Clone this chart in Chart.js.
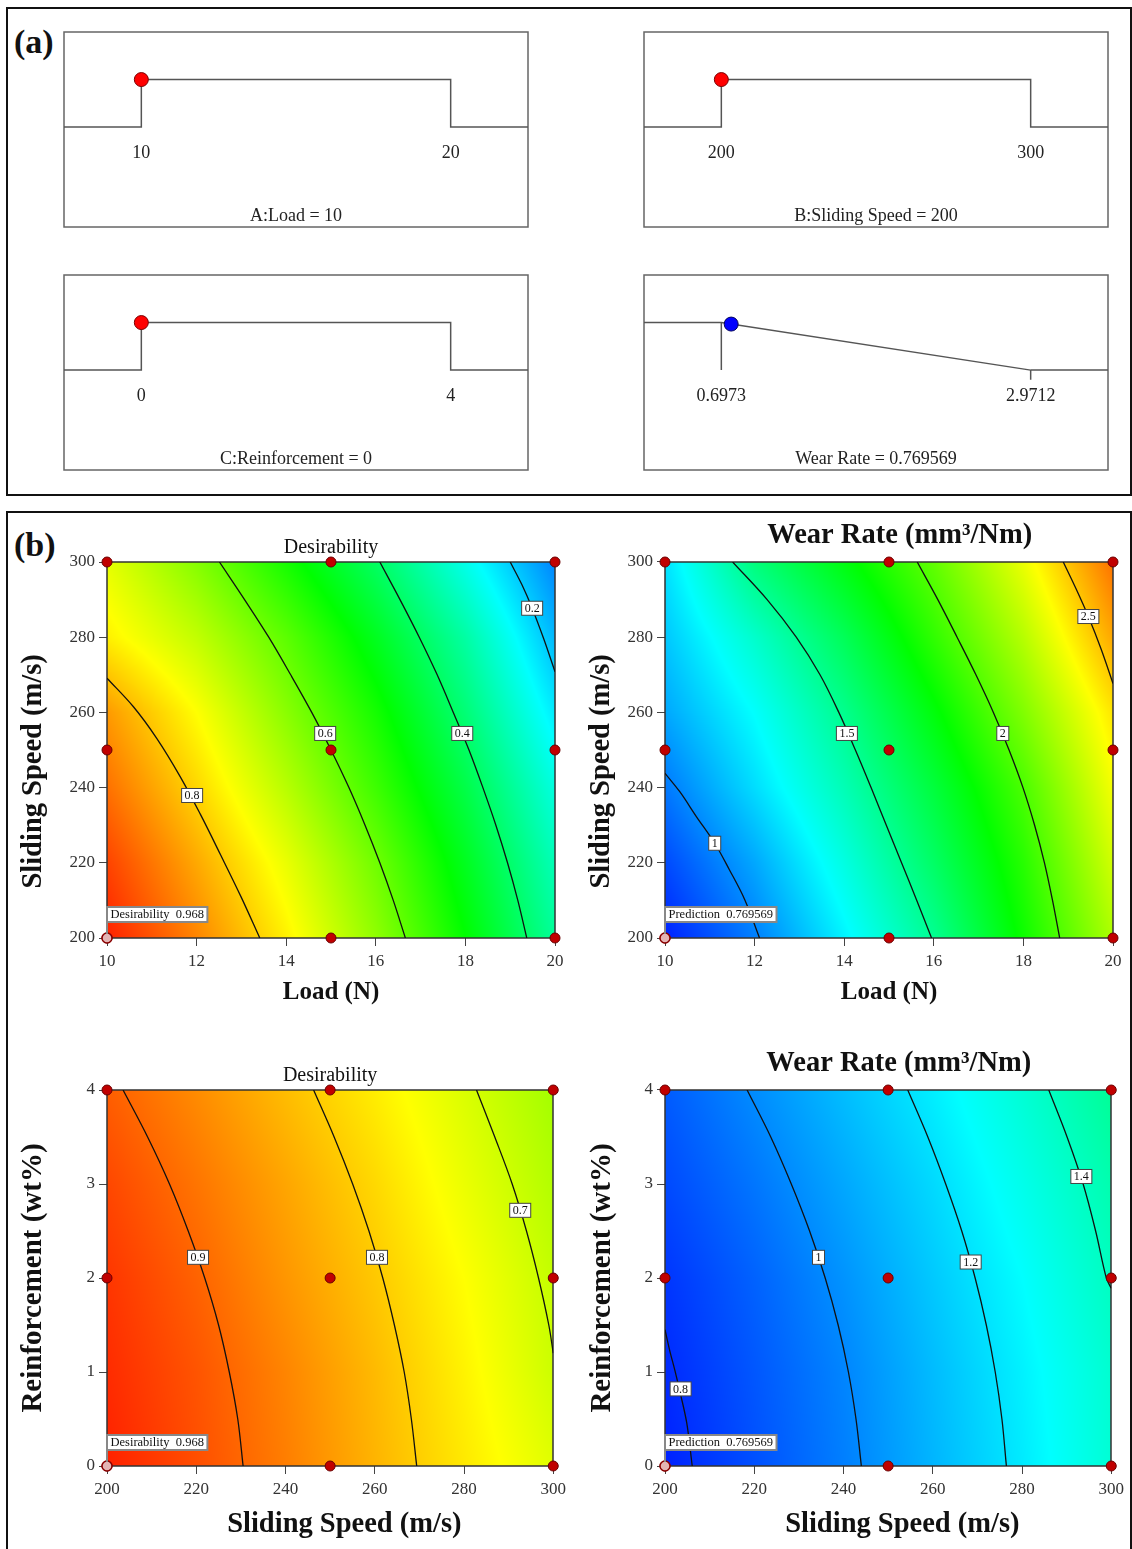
<!DOCTYPE html>
<html>
<head>
<meta charset="utf-8">
<script src="https://cdn.jsdelivr.net/npm/chart.js@4.4.1/dist/chart.umd.min.js"></script>
<style>
  body { margin: 0; width: 1132px; height: 1549px; overflow: hidden; position: relative; background: #fff; font-family: "Liberation Serif", serif; }
  .panel { position: absolute; border: 2px solid #111; box-sizing: border-box; }
  .tag { position: absolute; font: bold 34px "Liberation Serif", serif; line-height: 1; color: #111; }
  canvas { position: absolute; }
</style>
</head>
<body>
<div class="panel" style="left:6px;top:7px;width:1126px;height:489px"></div>
<div class="panel" style="left:6px;top:511px;width:1126px;height:1060px"></div>
<div class="tag" style="left:14px;top:25px">(a)</div>
<div class="tag" style="left:14px;top:528px">(b)</div>

<canvas id="rampLoad" width="480" height="211" style="left:56px;top:24px"></canvas>
<canvas id="rampSpeed" width="480" height="211" style="left:636px;top:24px"></canvas>
<canvas id="rampReinf" width="480" height="211" style="left:56px;top:267px"></canvas>
<canvas id="rampWear" width="480" height="211" style="left:636px;top:267px"></canvas>

<canvas id="desLS" width="571" height="500" style="left:0px;top:515px"></canvas>
<canvas id="wearLS" width="554" height="500" style="left:575px;top:515px"></canvas>
<canvas id="desSR" width="571" height="518" style="left:0px;top:1030px"></canvas>
<canvas id="wearSR" width="554" height="518" style="left:575px;top:1030px"></canvas>

<script>
// ---------- panel (a): factor ranges and current settings ----------
const loadRange = [10, 20];
const speedRange = [200, 300];
const reinfRange = [0, 4];
const wearRange = [0.6973, 2.9712];
const loadSetting = 10;
const speedSetting = 200;
const reinfSetting = 0;
const wearPrediction = 0.769569;
const desirability = 0.968;

// ---------- panel (b): ticks ----------
const loadTicks = [10, 12, 14, 16, 18, 20];
const speedTicks = [200, 220, 240, 260, 280, 300];
const reinfTicks = [0, 1, 2, 3, 4];

// design points (red dots)
const designLoadSpeed = [[10, 200], [15, 200], [20, 200], [10, 250], [15, 250], [20, 250], [10, 300], [15, 300], [20, 300]];
const designSpeedReinf = [[200, 0], [250, 0], [300, 0], [200, 2], [250, 2], [300, 2], [200, 4], [250, 4], [300, 4]];

// colour fields: rows follow the y ticks (bottom to top), columns the x ticks
const desLoadSpeed = [
  [0.968, 0.87, 0.764, 0.641, 0.501, 0.35],
  [0.935, 0.835, 0.73, 0.61, 0.47, 0.32],
  [0.89, 0.79, 0.68, 0.56, 0.43, 0.28],
  [0.85, 0.75, 0.635, 0.52, 0.385, 0.23],
  [0.765, 0.69, 0.59, 0.47, 0.34, 0.18],
  [0.725, 0.63, 0.52, 0.405, 0.27, 0.13],
];
const wearLoadSpeed = [
  [0.77, 0.98, 1.24, 1.51, 1.86, 2.22],
  [0.86, 1.07, 1.33, 1.61, 1.92, 2.3],
  [0.965, 1.19, 1.43, 1.7, 2.0, 2.38],
  [1.07, 1.27, 1.52, 1.81, 2.12, 2.46],
  [1.14, 1.38, 1.64, 1.94, 2.24, 2.6],
  [1.2, 1.56, 1.8, 2.05, 2.36, 2.72],
];
const desSpeedReinf = [
  [0.968, 0.924, 0.877, 0.824, 0.772, 0.72],
  [0.958, 0.918, 0.87, 0.818, 0.762, 0.70],
  [0.948, 0.904, 0.853, 0.804, 0.75, 0.692],
  [0.931, 0.886, 0.838, 0.788, 0.731, 0.675],
  [0.908, 0.863, 0.815, 0.767, 0.714, 0.66],
];
const wearSpeedReinf = [
  [0.77, 0.874, 0.979, 1.1, 1.22, 1.36],
  [0.789, 0.89, 0.993, 1.115, 1.235, 1.37],
  [0.815, 0.915, 1.025, 1.145, 1.265, 1.405],
  [0.86, 0.96, 1.07, 1.182, 1.31, 1.445],
  [0.9, 1.01, 1.12, 1.23, 1.36, 1.5],
];

// contour lines
const desLSLevels = ["0.8", "0.6", "0.4", "0.2"];
const desLSLines = [
  [[10, 269.1], [10.59, 261.5], [11.11, 253.1], [11.63, 243], [12.08, 233], [12.54, 222], [12.99, 211], [13.41, 200]],
  [[12.51, 300], [13.07, 290], [13.61, 280], [14.1, 270], [14.57, 260], [15.0, 250], [15.4, 240], [15.76, 230], [16.09, 220], [16.39, 210], [16.66, 200]],
  [[16.09, 300], [16.54, 290], [16.97, 280], [17.37, 270], [17.73, 260], [18.08, 250], [18.39, 240], [18.68, 230], [18.94, 220], [19.17, 210], [19.37, 200]],
  [[19.0, 300], [19.26, 294], [19.49, 287.7], [19.75, 279.5], [20, 270.8]],
];
const desLSLabelAt = [[11.9, 237.9], [14.87, 254.4], [17.93, 254.4], [19.49, 287.7]];

const wearLSLevels = ["1", "1.5", "2", "2.5"];
const wearLSLines = [
  [[10, 243.8], [10.33, 238.9], [10.7, 232.3], [11.11, 225.2], [11.44, 218.1], [11.78, 210.2], [12.11, 200]],
  [[11.51, 300], [12.28, 290], [12.93, 280], [13.46, 270], [13.88, 260], [14.25, 250], [14.6, 240], [14.94, 230], [15.28, 220], [15.62, 210], [15.95, 200]],
  [[15.63, 300], [16.09, 290], [16.52, 280], [16.94, 270], [17.33, 260], [17.68, 250], [17.99, 240], [18.25, 230], [18.47, 220], [18.65, 210], [18.81, 200]],
  [[18.89, 300], [19.17, 293], [19.45, 285.5], [19.73, 277], [20, 267.7]],
];
const wearLSLabelAt = [[11.11, 225.2], [14.06, 254.4], [17.54, 254.4], [19.45, 285.5]];

const desSRLevels = ["0.9", "0.8", "0.7"];
const desSRLines = [
  [[203.6, 4], [209.1, 3.5], [214.0, 3], [218.2, 2.5], [221.9, 2], [225.0, 1.5], [227.4, 1], [229.3, 0.5], [230.5, 0]],
  [[246.3, 4], [250.9, 3.5], [255.05, 3], [258.7, 2.5], [261.8, 2], [264.4, 1.5], [266.6, 1], [268.2, 0.5], [269.4, 0]],
  [[282.8, 4], [286.9, 3.5], [290.8, 3], [294.0, 2.5], [296.7, 2], [299.0, 1.5], [300, 1.2]],
];
const desSRLabelAt = [[220.4, 2.22], [260.5, 2.22], [292.6, 2.72]];

const wearSRLevels = ["0.8", "1", "1.2", "1.4"];
const wearSRLines = [
  [[200, 1.45], [201.1, 1.22], [202.2, 1.02], [203.5, 0.76], [204.9, 0.45], [206.1, 0]],
  [[218.4, 4], [223.7, 3.5], [228.3, 3], [232.4, 2.5], [235.9, 2], [238.8, 1.5], [241.1, 1], [242.8, 0.5], [244.0, 0]],
  [[254.4, 4], [258.9, 3.5], [262.9, 3], [266.5, 2.5], [269.5, 2], [272.0, 1.5], [274.0, 1], [275.5, 0.5], [276.5, 0]],
  [[286, 4], [290.1, 3.5], [293.7, 3], [296.5, 2.5], [298.9, 2], [300, 1.89]],
];
const wearSRLabelAt = [[203.5, 0.82], [234.4, 2.22], [268.5, 2.17], [293.3, 3.08]];

// ---------- helpers ----------
const SERIF = '"Liberation Serif", serif';
const rainbow = [[0, 0, 255], [0, 255, 255], [0, 255, 0], [255, 255, 0], [255, 0, 0]];

function rainbowColor(t) {
  t = Math.max(0, Math.min(1, t));
  const s = t * 4;
  const i = Math.min(3, Math.floor(s));
  const f = s - i;
  const a = rainbow[i], b = rainbow[i + 1];
  return [a[0] + (b[0] - a[0]) * f, a[1] + (b[1] - a[1]) * f, a[2] + (b[2] - a[2]) * f];
}

function bilinear(gx, gy, grid, xv, yv) {
  let i = 0;
  while (i < gx.length - 2 && xv > gx[i + 1]) i++;
  let j = 0;
  while (j < gy.length - 2 && yv > gy[j + 1]) j++;
  const tx = Math.max(0, Math.min(1, (xv - gx[i]) / (gx[i + 1] - gx[i])));
  const ty = Math.max(0, Math.min(1, (yv - gy[j]) / (gy[j + 1] - gy[j])));
  const lo = grid[j][i] * (1 - tx) + grid[j][i + 1] * tx;
  const hi = grid[j + 1][i] * (1 - tx) + grid[j + 1][i + 1] * tx;
  return lo * (1 - ty) + hi * ty;
}

const toXY = (pts) => pts.map((p) => ({ x: p[0], y: p[1] }));

// ---------- panel (a) ----------
function rampChart(id, range, setting, name, minimize) {
  const span = range[1] - range[0];
  const xmin = range[0] - span * 0.25;
  const xmax = range[1] + span * 0.25;
  const datasets = [];
  let dotY = 1;
  let dotColor = "#ff0000";
  let dotBorder = "#7a0000";
  if (!minimize) {
    datasets.push({ data: toXY([[xmin, 0], [range[0], 0], [range[0], 1], [range[1], 1], [range[1], 0], [xmax, 0]]) });
  } else {
    datasets.push({ data: toXY([[xmin, 1], [range[0], 1], [range[1], 0], [xmax, 0]]) });
    datasets.push({ data: toXY([[range[0], 1], [range[0], 0]]) });
    datasets.push({ data: toXY([[range[1], 0], [range[1], -0.2]]) });
    dotY = (range[1] - setting) / span;
    dotColor = "#0000ff";
    dotBorder = "#00005a";
  }
  datasets.forEach((d) => Object.assign(d, { borderColor: "#555", borderWidth: 1.5, pointRadius: 0, order: 2 }));
  datasets.push({
    data: [{ x: setting, y: dotY }], showLine: false, order: 1, clip: false,
    pointRadius: 7, pointBackgroundColor: dotColor, pointBorderColor: dotBorder, pointBorderWidth: 1,
  });

  const texts = {
    id: "rampTexts",
    beforeDatasetsDraw(chart) {
      const { ctx, chartArea: a } = chart;
      ctx.save();
      ctx.strokeStyle = "#666";
      ctx.lineWidth = 1.5;
      ctx.strokeRect(a.left, a.top, a.right - a.left, a.bottom - a.top);
      ctx.restore();
    },
    afterDatasetsDraw(chart) {
      const { ctx, scales: { x, y } } = chart;
      ctx.save();
      ctx.font = "18px " + SERIF;
      ctx.fillStyle = "#222";
      ctx.textAlign = "center";
      ctx.textBaseline = "middle";
      ctx.fillText(String(range[0]), x.getPixelForValue(range[0]), y.getPixelForValue(-0.56));
      ctx.fillText(String(range[1]), x.getPixelForValue(range[1]), y.getPixelForValue(-0.56));
      ctx.fillText(name + " = " + setting, x.getPixelForValue((range[0] + range[1]) / 2), y.getPixelForValue(-1.88));
      ctx.restore();
    },
  };

  new Chart(document.getElementById(id), {
    type: "line",
    data: { datasets },
    options: {
      responsive: false, animation: false, devicePixelRatio: 1, events: [],
      layout: { padding: 8 },
      plugins: { legend: { display: false }, tooltip: { enabled: false } },
      scales: {
        x: { type: "linear", display: false, min: xmin, max: xmax },
        y: { type: "linear", display: false, min: -2.1, max: 2.0 },
      },
    },
    plugins: [texts],
  });
}

rampChart("rampLoad", loadRange, loadSetting, "A:Load", false);
rampChart("rampSpeed", speedRange, speedSetting, "B:Sliding Speed", false);
rampChart("rampReinf", reinfRange, reinfSetting, "C:Reinforcement", false);
rampChart("rampWear", wearRange, wearPrediction, "Wear Rate", true);

// ---------- panel (b) ----------
function contourChart(id, c) {
  const heat = {
    id: "heatmap",
    beforeDatasetsDraw(chart) {
      const { ctx, chartArea: a, scales: { x, y } } = chart;
      const w = Math.round(a.right - a.left);
      const h = Math.round(a.bottom - a.top);
      const off = document.createElement("canvas");
      off.width = w;
      off.height = h;
      const octx = off.getContext("2d");
      const img = octx.createImageData(w, h);
      for (let j = 0; j < h; j++) {
        const yv = y.getValueForPixel(a.top + j + 0.5);
        for (let i = 0; i < w; i++) {
          const xv = x.getValueForPixel(a.left + i + 0.5);
          const col = rainbowColor(c.toT(bilinear(c.xTicks, c.yTicks, c.field, xv, yv)));
          const k = (j * w + i) * 4;
          img.data[k] = col[0];
          img.data[k + 1] = col[1];
          img.data[k + 2] = col[2];
          img.data[k + 3] = 255;
        }
      }
      octx.putImageData(img, 0, 0);
      ctx.drawImage(off, a.left, a.top);
      ctx.save();
      ctx.strokeStyle = "#333";
      ctx.lineWidth = 1.5;
      ctx.strokeRect(a.left, a.top, w, h);
      ctx.restore();
    },
    afterDatasetsDraw(chart) {
      const { ctx, scales: { x, y } } = chart;
      ctx.save();
      ctx.font = "12px " + SERIF;
      ctx.textAlign = "center";
      ctx.textBaseline = "middle";
      c.levels.forEach((lv, k) => {
        const px = x.getPixelForValue(c.labelAt[k][0]);
        const py = y.getPixelForValue(c.labelAt[k][1]);
        const bw = ctx.measureText(lv).width + 6;
        ctx.fillStyle = "#fff";
        ctx.fillRect(px - bw / 2, py - 7, bw, 14);
        ctx.strokeStyle = "#444";
        ctx.lineWidth = 1;
        ctx.strokeRect(px - bw / 2, py - 7, bw, 14);
        ctx.fillStyle = "#111";
        ctx.fillText(lv, px, py + 0.5);
      });
      // flag on the current setting
      const fx = x.getPixelForValue(c.flag[0]);
      const fy = y.getPixelForValue(c.flag[1]);
      ctx.font = "12.5px " + SERIF;
      const tw = ctx.measureText(c.flagText).width;
      const bw = tw + 7, bh = 15;
      ctx.strokeStyle = "#888";
      ctx.lineWidth = 2;
      ctx.beginPath();
      ctx.moveTo(fx, fy - 4);
      ctx.lineTo(fx, fy - 16);
      ctx.stroke();
      ctx.fillStyle = "#fff";
      ctx.fillRect(fx, fy - 16 - bh, bw, bh);
      ctx.strokeRect(fx, fy - 16 - bh, bw, bh);
      ctx.fillStyle = "#111";
      ctx.textAlign = "left";
      ctx.fillText(c.flagText, fx + 3.5, fy - 16 - bh / 2 + 0.5);
      ctx.restore();
    },
  };

  const datasets = c.lines.map((pts) => ({
    data: toXY(pts), borderColor: "#111", borderWidth: 1.3, pointRadius: 0, tension: 0.35, order: 3,
  }));
  datasets.push({
    data: toXY(c.design), showLine: false, order: 2, clip: false,
    pointRadius: 5, pointBackgroundColor: "#c00000", pointBorderColor: "#6a0000", pointBorderWidth: 1,
  });
  datasets.push({
    data: toXY([c.flag]), showLine: false, order: 1, clip: false,
    pointRadius: 5, pointBackgroundColor: "#e4b4b4", pointBorderColor: "#8a0000", pointBorderWidth: 1.5,
  });

  const tickFont = { family: SERIF, size: 17 };

  new Chart(document.getElementById(id), {
    type: "line",
    data: { datasets },
    options: {
      responsive: false, animation: false, devicePixelRatio: 1, events: [],
      layout: { padding: c.pad },
      plugins: {
        legend: { display: false },
        tooltip: { enabled: false },
        title: {
          display: true, text: c.title, fullSize: false, color: "#111",
          font: { family: SERIF, size: c.titleSize, weight: c.titleBold ? "bold" : "normal" },
          padding: { top: 0, bottom: c.titleGap },
        },
      },
      scales: {
        x: {
          type: "linear", min: c.xTicks[0], max: c.xTicks[c.xTicks.length - 1],
          afterBuildTicks: (s) => { s.ticks = c.xTicks.map((v) => ({ value: v })); },
          afterFit: (s) => { s.height = c.xH; },
          grid: { drawOnChartArea: false, tickLength: 8, color: "#444" },
          border: { display: false },
          ticks: { font: tickFont, color: "#333", padding: 5, maxRotation: 0, autoSkip: false },
          title: {
            display: true, text: c.xTitle, color: "#111",
            font: { family: SERIF, size: c.xTitleSize, weight: "bold" },
            padding: { top: 0, bottom: c.xTitleGap },
          },
        },
        y: {
          type: "linear", min: c.yTicks[0], max: c.yTicks[c.yTicks.length - 1],
          afterBuildTicks: (s) => { s.ticks = c.yTicks.map((v) => ({ value: v })); },
          afterFit: (s) => { s.width = c.yW; },
          grid: { drawOnChartArea: false, tickLength: 8, color: "#444" },
          border: { display: false },
          ticks: { font: tickFont, color: "#333", padding: 4, autoSkip: false },
          title: {
            display: true, text: c.yTitle, color: "#111",
            font: { family: SERIF, size: c.yTitleSize, weight: "bold" },
            padding: { top: c.yTitleGap, bottom: 0 },
          },
        },
      },
    },
    plugins: [heat],
  });
}

const desT = (v) => v;
const wearT = (v) => (v - wearRange[0]) / (wearRange[1] - wearRange[0]);

// some titles sit a little off the middle of their axis in the original; padding spaces nudge them
const speedTitleLow = "Sliding Speed (m/s)      ";
const speedTitleRight = "    Sliding Speed (m/s)";
const wearTitle = "   Wear Rate (mm³/Nm)";

contourChart("desLS", {
  xTicks: loadTicks, yTicks: speedTicks, field: desLoadSpeed, toT: desT,
  lines: desLSLines, levels: desLSLevels, labelAt: desLSLabelAt,
  design: designLoadSpeed, flag: [loadSetting, speedSetting], flagText: "Desirability  " + desirability,
  title: "Desirability", titleBold: false, titleSize: 20, titleGap: 2,
  xTitle: "Load (N)", xTitleSize: 25, yTitle: speedTitleLow, yTitleSize: 28.5,
  pad: { left: 12, right: 16, top: 21, bottom: 2 }, yW: 95, xH: 75, xTitleGap: 5, yTitleGap: 5,
});
contourChart("wearLS", {
  xTicks: loadTicks, yTicks: speedTicks, field: wearLoadSpeed, toT: wearT,
  lines: wearLSLines, levels: wearLSLevels, labelAt: wearLSLabelAt,
  design: designLoadSpeed, flag: [loadSetting, speedSetting], flagText: "Prediction  " + wearPrediction,
  title: wearTitle, titleBold: true, titleSize: 28.5, titleGap: 8.9,
  xTitle: "Load (N)", xTitleSize: 25, yTitle: speedTitleLow, yTitleSize: 28.5,
  pad: { left: 10, right: 16, top: 3.9, bottom: 2 }, yW: 80, xH: 75, xTitleGap: 5, yTitleGap: 0,
});
contourChart("desSR", {
  xTicks: speedTicks, yTicks: reinfTicks, field: desSpeedReinf, toT: desT,
  lines: desSRLines, levels: desSRLevels, labelAt: desSRLabelAt,
  design: designSpeedReinf, flag: [speedSetting, reinfSetting], flagText: "Desirability  " + desirability,
  title: "Desirability", titleBold: false, titleSize: 20, titleGap: 2,
  xTitle: speedTitleRight, xTitleSize: 28.5, yTitle: "Reinforcement (wt%)", yTitleSize: 29,
  pad: { left: 12, right: 16, top: 34, bottom: 2 }, yW: 95, xH: 80, xTitleGap: 3.9, yTitleGap: 4.6,
});
contourChart("wearSR", {
  xTicks: speedTicks, yTicks: reinfTicks, field: wearSpeedReinf, toT: wearT,
  lines: wearSRLines, levels: wearSRLevels, labelAt: wearSRLabelAt,
  design: designSpeedReinf, flag: [speedSetting, reinfSetting], flagText: "Prediction  " + wearPrediction,
  title: wearTitle, titleBold: true, titleSize: 28.5, titleGap: 8.9,
  xTitle: speedTitleRight, xTitleSize: 28.5, yTitle: "Reinforcement (wt%)", yTitleSize: 29,
  pad: { left: 10, right: 16, top: 16.9, bottom: 2 }, yW: 80, xH: 80, xTitleGap: 3.9, yTitleGap: 0,
});
</script>
</body>
</html>
